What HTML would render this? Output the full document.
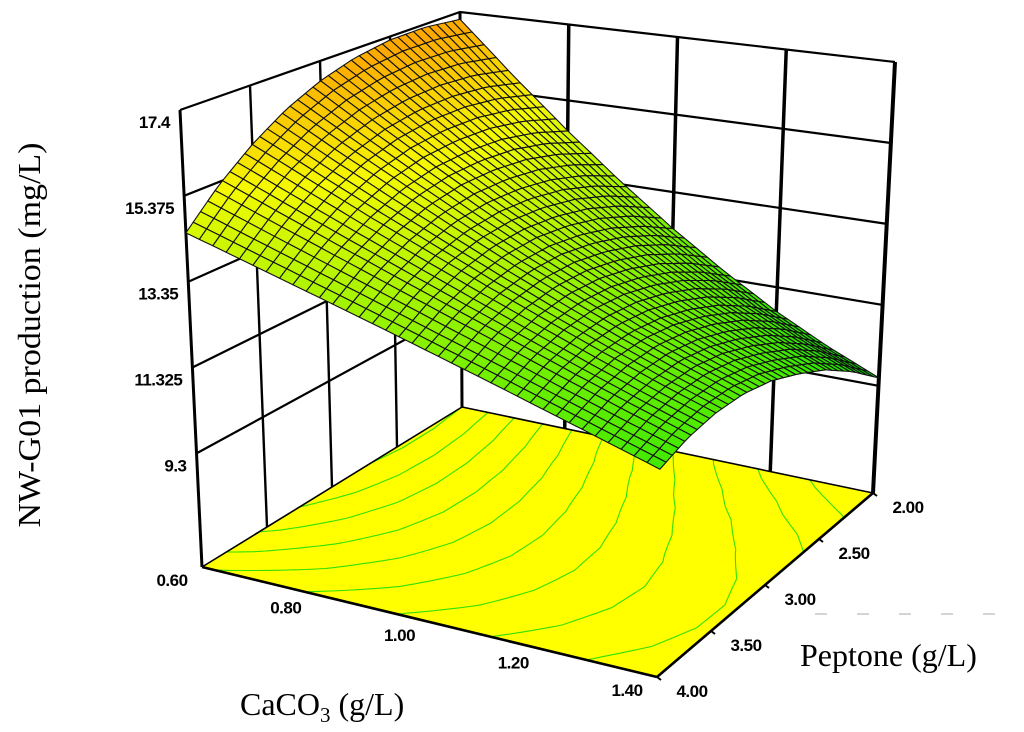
<!DOCTYPE html>
<html><head><meta charset="utf-8"><style>
html,body{margin:0;padding:0;background:#fff;}
svg{display:block;}
.tk{font-family:"Liberation Sans",sans-serif;font-weight:bold;font-size:17px;fill:#000;letter-spacing:-0.5px;}
.tt{font-family:"Liberation Serif",serif;font-size:32px;fill:#000;}
</style></head><body>
<svg id="chart" width="1024" height="732" viewBox="0 0 1024 732" xmlns="http://www.w3.org/2000/svg">
<g id="walls"></g>
<g id="floor"></g>
<g id="axes"></g>
<g id="surface"></g>
<g id="labels"></g>
<line x1="815" y1="614" x2="1024" y2="614" stroke="#aaa" stroke-width="1" stroke-dasharray="12,30"/>
<text class="tt" x="800" y="666">Peptone (g/L)</text>
<text class="tt" x="240" y="715">CaCO<tspan font-size="21" dy="7">3</tspan><tspan dy="-7"> (g/L)</tspan></text>
<text class="tt" transform="translate(40,335) rotate(-90)" text-anchor="middle" textLength="385" lengthAdjust="spacingAndGlyphs">NW-G01 production (mg/L)</text>
</svg>
<script>
const cacoValues = [0.6,0.7,0.8,0.9,1.0,1.1,1.2,1.3,1.4];
const peptoneValues = [2.0,2.25,2.5,2.75,3.0,3.25,3.5,3.75,4.0];
const zRow200 = [17.20,15.82,14.56,13.42,12.40,11.50,10.71,10.05,9.50];
const zRow225 = [17.32,16.06,14.90,13.85,12.90,12.06,11.32,10.69,10.16];
const zRow250 = [17.31,16.16,15.11,14.15,13.27,12.49,11.80,11.20,10.69];
const zRow275 = [17.17,16.14,15.18,14.31,13.51,12.79,12.14,11.57,11.06];
const zRow300 = [16.90,15.99,15.14,14.35,13.63,12.97,12.36,11.83,11.35];
const zRow325 = [16.50,15.70,14.96,14.26,13.61,13.01,12.45,11.95,11.49];
const zRow350 = [15.96,15.28,14.63,14.03,13.45,12.91,12.40,11.92,11.49];
const zRow375 = [15.30,14.73,14.19,13.67,13.17,12.69,12.22,11.78,11.36];
const zRow400 = [14.50,14.05,13.61,13.18,12.75,12.33,11.91,11.50,11.10];
const zTicks = [9.3,11.325,13.35,15.375,17.4];
const zTickLabels = ["9.3","11.325","13.35","15.375","17.4"];
const cacoTicks = [0.6,0.8,1.0,1.2,1.4];
const cacoTickLabels = ["0.60","0.80","1.00","1.20","1.40"];
const peptoneTicks = [2.0,2.5,3.0,3.5,4.0];
const peptoneTickLabels = ["2.00","2.50","3.00","3.50","4.00"];

const zGrid=[zRow200,zRow225,zRow250,zRow275,zRow300,zRow325,zRow350,zRow375,zRow400];
const NS="http://www.w3.org/2000/svg";
const ZF=6.62, ZT=17.4;
const cMin=0.6,cMax=1.4,pMin=2.0,pMax=4.0;
const BOT={A:[202,567],B:[657,677],C:[873,493],D:[462,407]};
const TOP={A:[180,110],B:[664,177],C:[895,62],D:[460,12]};
function bil(Q,s,q){
  const x=Q.A[0]*(1-s)*(1-q)+Q.B[0]*s*(1-q)+Q.C[0]*s*q+Q.D[0]*(1-s)*q;
  const y=Q.A[1]*(1-s)*(1-q)+Q.B[1]*s*(1-q)+Q.C[1]*s*q+Q.D[1]*(1-s)*q;
  return [x,y];
}
function P(c,p,z){
  const s=(c-cMin)/(cMax-cMin), q=(pMax-p)/(pMax-pMin);
  const b=bil(BOT,s,q), t=bil(TOP,s,q), f=(z-ZF)/(ZT-ZF);
  return [b[0]+f*(t[0]-b[0]), b[1]+f*(t[1]-b[1])];
}
function zAt(c,p){
  let fi=(p-pMin)/(pMax-pMin)*(peptoneValues.length-1), fj=(c-cMin)/(cMax-cMin)*(cacoValues.length-1);
  let i=Math.min(Math.floor(fi),peptoneValues.length-2), j=Math.min(Math.floor(fj),cacoValues.length-2);
  const a=fi-i,b=fj-j;
  return zGrid[i][j]*(1-a)*(1-b)+zGrid[i][j+1]*(1-a)*b+zGrid[i+1][j]*a*(1-b)+zGrid[i+1][j+1]*a*b;
}
function mk(tag,attrs,parent){const e=document.createElementNS(NS,tag);for(const k in attrs)e.setAttribute(k,attrs[k]);parent.appendChild(e);return e;}
const pt=a=>a[0].toFixed(1)+","+a[1].toFixed(1);

const walls=document.getElementById('walls');
zTicks.forEach((z,k)=>{
  const l=mk('polyline',{points:[P(cMin,pMax,z),P(cMin,pMin,z),P(cMax,pMin,z)].map(pt).join(' '),fill:'none',stroke:'#000','stroke-width':2.2},walls);
  
  
});
peptoneTicks.slice(1,4).forEach(p=>{
  const l=mk('line',{x1:P(cMin,p,ZF)[0],y1:P(cMin,p,ZF)[1],x2:P(cMin,p,ZT)[0],y2:P(cMin,p,ZT)[1],stroke:'#000','stroke-width':2.4},walls);
  
  
});
cacoTicks.slice(1,4).forEach(c=>{
  const l=mk('line',{x1:P(c,pMin,ZF)[0],y1:P(c,pMin,ZF)[1],x2:P(c,pMin,ZT)[0],y2:P(c,pMin,ZT)[1],stroke:'#000','stroke-width':3.5},walls);
  
  
});
[[cMin,pMax,3],[cMin,pMin,3],[cMax,pMin,4]].forEach(([c,p,w])=>{
  const l=mk('line',{x1:P(c,p,ZF)[0],y1:P(c,p,ZF)[1],x2:P(c,p,ZT)[0],y2:P(c,p,ZT)[1],stroke:'#000','stroke-width':w},walls);
  
  
});

const floor=document.getElementById('floor');
const fq=mk('polygon',{points:[P(cMin,pMax,ZF),P(cMax,pMax,ZF),P(cMax,pMin,ZF),P(cMin,pMin,ZF)].map(pt).join(' '),fill:'#ffff00',stroke:'none'},floor);


const N=64, levels=[];
for(let L=10.2;L<17.3;L+=0.7)levels.push(L);
let segs={};levels.forEach(L=>segs[L]=[]);
for(let i=0;i<N;i++)for(let j=0;j<N;j++){
  const c0=cMin+(cMax-cMin)*j/N,c1=cMin+(cMax-cMin)*(j+1)/N,p0=pMin+(pMax-pMin)*i/N,p1=pMin+(pMax-pMin)*(i+1)/N;
  const cs=[[c0,p0],[c1,p0],[c1,p1],[c0,p1]],zs=cs.map(a=>zAt(a[0],a[1]));
  levels.forEach(L=>{
    const pts=[];
    for(let e=0;e<4;e++){const a=e,b=(e+1)%4;
      if((zs[a]-L)*(zs[b]-L)<0){const f=(L-zs[a])/(zs[b]-zs[a]);pts.push([cs[a][0]+f*(cs[b][0]-cs[a][0]),cs[a][1]+f*(cs[b][1]-cs[a][1])]);}}
    if(pts.length>=2)segs[L].push([pts[0],pts[1]]);
    if(pts.length===4)segs[L].push([pts[2],pts[3]]);
  });
}
levels.forEach(L=>{
  let d='';segs[L].forEach(([a,b])=>{const A=P(a[0],a[1],ZF),B=P(b[0],b[1],ZF);d+='M'+pt(A)+'L'+pt(B);});
  const pa=mk('path',{d:d,stroke:'#30e000',fill:'none','stroke-width':1.1},floor);
  
  
});

const axes=document.getElementById('axes');
[[[cMin,pMax],[cMax,pMax],2.6],[[cMax,pMax],[cMax,pMin],2.6],[[cMin,pMax],[cMin,pMin],1.6],[[cMin,pMin],[cMax,pMin],1.6]].forEach(([a,b,w])=>{
  const A=P(a[0],a[1],ZF),B=P(b[0],b[1],ZF);
  const l=mk('line',{x1:A[0],y1:A[1],x2:B[0],y2:B[1],stroke:'#000','stroke-width':w},axes);
  
  
});

function col(z){
  const st=[[9.5,[0,225,0]],[12.5,[120,240,0]],[15.2,[245,250,0]],[17.5,[255,155,0]]];
  if(z<=st[0][0])return st[0][1];
  for(let k=0;k<st.length-1;k++){if(z<=st[k+1][0]){const f=(z-st[k][0])/(st[k+1][0]-st[k][0]);return st[k][1].map((v,m)=>Math.round(v+f*(st[k+1][1][m]-v)));}}
  return st[st.length-1][1];
}
const surf=document.getElementById('surface');
const M=36;
for(let i=0;i<M;i++)for(let j=0;j<M;j++){
  const c0=cMin+(cMax-cMin)*j/M,c1=cMin+(cMax-cMin)*(j+1)/M,p0=pMin+(pMax-pMin)*i/M,p1=pMin+(pMax-pMin)*(i+1)/M;
  const q=[[c0,p0],[c1,p0],[c1,p1],[c0,p1]];
  const zs=q.map(a=>zAt(a[0],a[1]));
  const zm=(zs[0]+zs[1]+zs[2]+zs[3])/4;
  const cc=col(zm);
  const poly=mk('polygon',{points:q.map((a,k)=>pt(P(a[0],a[1],zs[k]))).join(' '),fill:'rgb('+cc.join(',')+')',stroke:'#111','stroke-width':1.1,'stroke-linejoin':'round'},surf);
  
  
}

const lab=document.getElementById('labels');
zTicks.forEach((z,k)=>{
  const a=P(cMin,pMax,z);
  const t=mk('text',{x:a[0]-10,y:a[1]+18,'text-anchor':'end',class:'tk'},lab);
  t.textContent=zTickLabels[k];
  
  
});
cacoTicks.forEach((c,k)=>{
  const a=P(c,pMax,ZF);
  const t=mk('text',{x:a[0]-30,y:a[1]+19,'text-anchor':'middle',class:'tk'},lab);
  t.textContent=cacoTickLabels[k];
  
  
});
peptoneTicks.forEach((p,k)=>{
  const a=P(cMax,p,ZF);
  const t=mk('text',{x:a[0]+35,y:a[1]+20,'text-anchor':'middle',class:'tk'},lab);
  t.textContent=peptoneTickLabels[k];
  
  
  const tk=mk('line',{x1:a[0],y1:a[1],x2:a[0]+4,y2:a[1]+3,stroke:'#000','stroke-width':2},lab);
  
  
});
</script>
</body></html>
